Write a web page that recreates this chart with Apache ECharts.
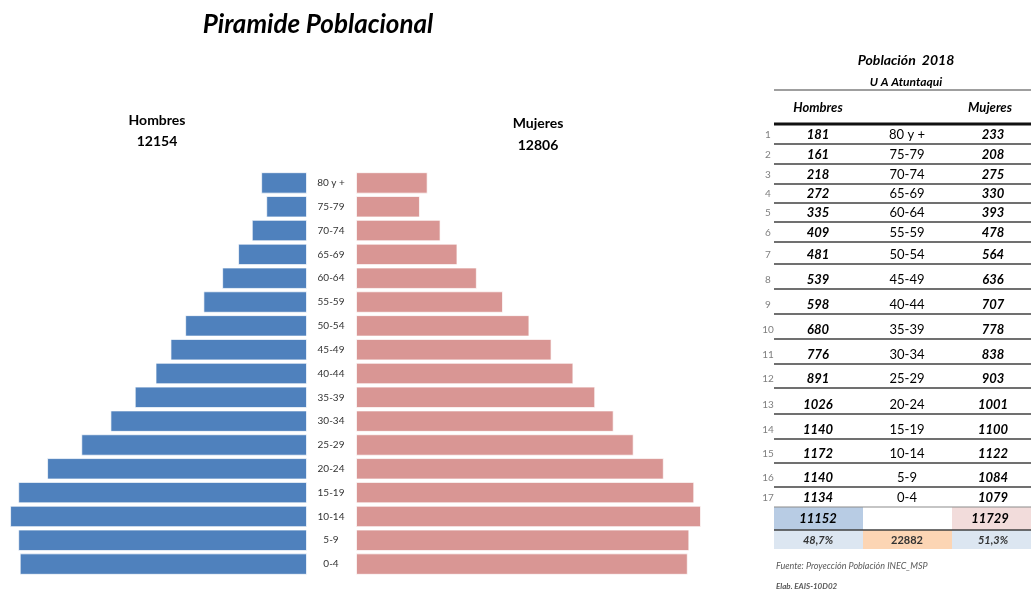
<!DOCTYPE html>
<html>
<head>
<meta charset="utf-8">
<title>Piramide Poblacional</title>
<script src="https://cdn.jsdelivr.net/npm/echarts@6/dist/echarts.min.js"></script>
<style>
  html, body { margin: 0; padding: 0; background: #fff; }
  #chart { width: 1031px; height: 594px; }
</style>
</head>
<body>
<div id="chart"></div>
<script>
// data (top row = oldest group)
const ages = ["80 y +", "75-79", "70-74", "65-69", "60-64", "55-59", "50-54", "45-49", "40-44",
  "35-39", "30-34", "25-29", "20-24", "15-19", "10-14", "5-9", "0-4"];
const hombres = [181, 161, 218, 272, 335, 409, 481, 539, 598, 680, 776, 891, 1026, 1140, 1172, 1140, 1134];
const mujeres = [233, 208, 275, 330, 393, 478, 564, 636, 707, 778, 838, 903, 1001, 1100, 1122, 1084, 1079];
const headerTotals = ["12154", "12806"];
const tableTotals = ["11152", "11729"];
const tableShares = ["48,7%", "22882", "51,3%"];

const blue = "#4F81BD";
const pink = "#D99694";
const font = "Lato, 'Open Sans', sans-serif";

// table layout (y of the line under each row)
const rowLines = [144, 164, 184, 203, 222, 242, 264, 289, 314, 339, 364, 388, 414, 439, 463, 487, 507];
const colX = { num: 768, h: 818, age: 907, m: 993 };
const tLeft = 774, tRight = 1031;

function txt(text, x, y, size, opts) {
  opts = opts || {};
  return {
    type: "text", x: x, y: y, silent: true,
    style: {
      text: text, fill: opts.color || "#000",
      font: (opts.style || "normal") + " " + (opts.weight || "normal") + " " + size + "px " + font,
      textAlign: opts.align || "center", textVerticalAlign: "middle"
    }
  };
}
function hline(y, w, color) {
  return {
    type: "line", silent: true,
    shape: { x1: tLeft, y1: y, x2: tRight, y2: y },
    style: { stroke: color, lineWidth: w }
  };
}
function cell(x, y, w, h, color) {
  return { type: "rect", silent: true, shape: { x: x, y: y, width: w, height: h }, style: { fill: color } };
}

const graphics = [
  txt("Piramide Poblacional", 318, 25, 26, { style: "italic", weight: "bold" }),
  txt("Hombres", 157, 120, 14, { weight: "bold" }),
  txt(headerTotals[0], 157, 141, 14, { weight: "bold" }),
  txt("Mujeres", 538, 123, 14, { weight: "bold" }),
  txt(headerTotals[1], 538, 145, 14, { weight: "bold" }),
  txt("Población  2018", 906, 60, 14, { style: "italic", weight: "bold" }),
  txt("U A Atuntaqui", 906, 82, 12, { style: "italic", weight: "bold" }),
  hline(90, 1.5, "#7f7f7f"),
  txt("Hombres", colX.h, 108, 13, { style: "italic", weight: "bold" }),
  txt("Mujeres", colX.m - 3, 108, 13, { style: "italic", weight: "bold" }),
  hline(124, 3, "#111")
];

ages.forEach(function (age, i) {
  const y = rowLines[i] - 9.5;
  graphics.push(txt(String(i + 1), colX.num, y, 10, { color: "#7f7f7f" }));
  graphics.push(txt(String(hombres[i]), colX.h, y, 13, { style: "italic", weight: "bold" }));
  graphics.push(txt(age, colX.age, y, 13, {}));
  graphics.push(txt(String(mujeres[i]), colX.m, y, 13, { style: "italic", weight: "bold" }));
  if (i < ages.length - 1) graphics.push(hline(rowLines[i], 1.5, "#404040"));
});

graphics.push(
  cell(tLeft, 507, 89, 23, "#B8CCE4"),
  cell(952, 507, tRight - 952, 23, "#F2DCDB"),
  cell(tLeft, 530, 89, 19, "#DCE6F1"),
  cell(863, 530, 89, 19, "#FCD5B4"),
  cell(952, 530, tRight - 952, 19, "#DCE6F1"),
  hline(507, 1.2, "#8c8c8c"),
  hline(530, 1.5, "#404040"),
  txt(tableTotals[0], colX.h, 519, 13, { style: "italic", weight: "bold" }),
  txt(tableTotals[1], colX.m - 3, 519, 13, { style: "italic", weight: "bold" }),
  txt(tableShares[0], colX.h, 540, 11, { style: "italic", weight: "bold", color: "#333" }),
  txt(tableShares[1], colX.age, 540, 11, { weight: "bold", color: "#333" }),
  txt(tableShares[2], colX.m, 540, 11, { style: "italic", weight: "bold", color: "#333" }),
  txt("Fuente: Proyección Población INEC_MSP", 776, 566, 9, { style: "italic", align: "left", color: "#595959" }),
  txt("Elab. EAIS-10D02", 776, 586, 8, { style: "italic", weight: "bold", align: "left", color: "#595959" })
);

const chart = echarts.init(document.getElementById("chart"));
chart.setOption({
  animation: false,
  grid: [
    { left: 3, right: 724, top: 171, height: 405 },
    { left: 356, right: 306, top: 171, height: 405 }
  ],
  xAxis: [
    { gridIndex: 0, type: "value", min: 0, max: 1200, inverse: true, show: false },
    { gridIndex: 1, type: "value", min: 0, max: 1200, show: false }
  ],
  yAxis: [
    { gridIndex: 0, type: "category", data: ages, inverse: true, show: false },
    {
      gridIndex: 1, type: "category", data: ages, inverse: true,
      axisLine: { show: false }, axisTick: { show: false },
      axisLabel: { align: "center", margin: 25, fontSize: 10, color: "#333", fontFamily: font }
    }
  ],
  series: [
    {
      name: "Hombres", type: "bar", xAxisIndex: 0, yAxisIndex: 0, data: hombres,
      barCategoryGap: "10%",
      itemStyle: { color: blue, borderColor: "rgba(255,255,255,0.7)", borderWidth: 1 }
    },
    {
      name: "Mujeres", type: "bar", xAxisIndex: 1, yAxisIndex: 1, data: mujeres,
      barCategoryGap: "10%",
      itemStyle: { color: pink, borderColor: "rgba(255,255,255,0.7)", borderWidth: 1 }
    }
  ],
  graphic: graphics
});
</script>
</body>
</html>
